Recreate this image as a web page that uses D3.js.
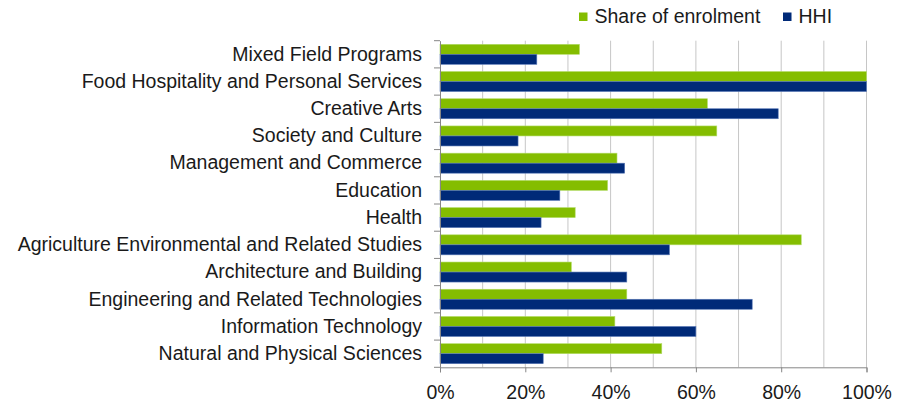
<!DOCTYPE html>
<html>
<head>
<meta charset="utf-8">
<script src="https://cdn.jsdelivr.net/npm/d3@7/dist/d3.min.js"></script>
<style>
  html, body { margin: 0; padding: 0; background: #fff; }
  svg text { font-family: "Liberation Sans", Arial, sans-serif; fill: #1a1a1a; }
</style>
</head>
<body>
<svg id="chart" width="897" height="404"></svg>
<script>
// Fields of education, top to bottom
const categories = [
  "Mixed Field Programs",
  "Food Hospitality and Personal Services",
  "Creative Arts",
  "Society and Culture",
  "Management and Commerce",
  "Education",
  "Health",
  "Agriculture Environmental and Related Studies",
  "Architecture and Building",
  "Engineering and Related Technologies",
  "Information Technology",
  "Natural and Physical Sciences"
];
// Values as fractions of 1
const shareOfEnrolment = [0.327, 1.0, 0.627, 0.649, 0.415, 0.393, 0.317, 0.847, 0.308, 0.438, 0.410, 0.520];
const hhi = [0.227, 1.0, 0.793, 0.183, 0.433, 0.281, 0.237, 0.538, 0.438, 0.732, 0.600, 0.242];
const seriesNames = ["Share of enrolment", "HHI"];
const seriesColors = ["#84bd00", "#002a78"];
const seriesStrokes = ["#b4dc6a", "#5a7ab8"];
const xTicks = [0, 0.2, 0.4, 0.6, 0.8, 1.0];
const xGrid = [0.1, 0.2, 0.3, 0.4, 0.5, 0.6, 0.7, 0.8, 0.9, 1.0];

const FONT = "19.5px";
const svg = d3.select("#chart");
const margin = { left: 440, right: 30.5, top: 40.7, bottom: 36.7 };
const W = 897, H = 404;

const x = d3.scaleLinear().domain([0, 1]).range([margin.left, W - margin.right]);
const y = d3.scaleBand().domain(categories).range([margin.top, H - margin.bottom]).paddingInner(0).paddingOuter(0);
const inner = d3.scaleBand().domain(seriesNames).range([0, y.bandwidth()]).paddingInner(0).paddingOuter(0.36);

// Vertical gridlines
svg.append("g").selectAll("line").data(xGrid).join("line")
  .attr("x1", d => x(d)).attr("x2", d => x(d))
  .attr("y1", margin.top).attr("y2", H - margin.bottom)
  .attr("stroke", "#c6c6c6").attr("stroke-width", 1);

// Bars
const series = [shareOfEnrolment, hhi];
series.forEach((vals, si) => {
  svg.append("g").selectAll("rect").data(categories).join("rect")
    .attr("x", x(0))
    .attr("y", c => y(c) + inner(seriesNames[si]))
    .attr("width", (c, i) => x(vals[i]) - x(0))
    .attr("height", inner.bandwidth())
    .attr("fill", seriesColors[si])
    .attr("stroke", seriesStrokes[si])
    .attr("stroke-width", 0.6);
});

// Y axis (category)
const yAxis = d3.axisLeft(y).tickSize(0).tickPadding(18);
const gy = svg.append("g").attr("transform", `translate(${x(0)},0)`).call(yAxis);
gy.select(".domain").attr("stroke", "#868686");
gy.selectAll("text").style("font-size", FONT).attr("fill", "#1a1a1a");
// category separator ticks
const sepPos = d3.range(categories.length + 1).map(i => margin.top + i * y.bandwidth());
gy.selectAll(".sep").data(sepPos).join("line").attr("class", "sep")
  .attr("x1", -6).attr("x2", 0)
  .attr("y1", d => d).attr("y2", d => d)
  .attr("stroke", "#868686");

// X axis
const xAxis = d3.axisBottom(x).tickValues(xTicks).tickFormat(d3.format(".0%")).tickSize(5).tickPadding(12.5);
const gx = svg.append("g").attr("transform", `translate(0,${H - margin.bottom})`).call(xAxis);
gx.select(".domain").attr("stroke", "#868686");
gx.selectAll(".tick line").attr("stroke", "#868686");
gx.selectAll("text").style("font-size", FONT).attr("fill", "#1a1a1a");

// Legend
const legendItems = [
  { name: seriesNames[0], color: seriesColors[0], x: 579 },
  { name: seriesNames[1], color: seriesColors[1], x: 783 }
];
const lg = svg.append("g");
legendItems.forEach(it => {
  lg.append("rect").attr("x", it.x).attr("y", 12.5).attr("width", 8.5).attr("height", 8.5).attr("fill", it.color);
  lg.append("text").attr("x", it.x + 15.5).attr("y", 22.7).style("font-size", FONT).text(it.name);
});
</script>
</body>
</html>
